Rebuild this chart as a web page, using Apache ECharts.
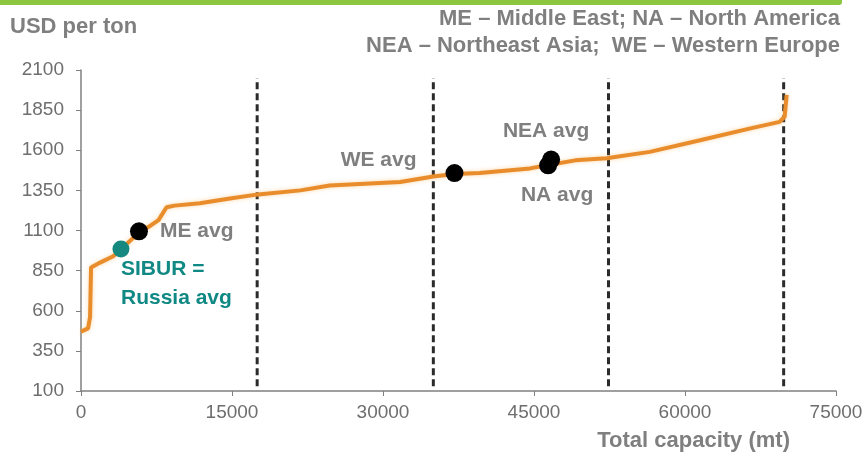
<!DOCTYPE html>
<html>
<head>
<meta charset="utf-8">
<script src="https://cdn.jsdelivr.net/npm/echarts@6/dist/echarts.min.js"></script>
<style>
  html, body { margin: 0; padding: 0; background: #fff; }
  #main { width: 867px; height: 456px; }
</style>
</head>
<body>
<div id="main"></div>
<script>
// cost curve: cumulative capacity (mt) -> cash cost (USD per ton)
var capacity = [0, 700, 900, 1000, 1900, 3200, 4000, 5800, 6900, 7700, 8500, 9300, 11800, 14800, 17600, 21800, 24700, 31700, 35000, 37100, 39600, 44600, 46600, 49100, 52200, 56500, 61500, 66400, 69400, 69900, 70100];
var cost = [470, 490, 560, 870, 900, 940, 985, 1090, 1130, 1165, 1245, 1255, 1270, 1300, 1325, 1350, 1380, 1402, 1437, 1452, 1458, 1487, 1510, 1537, 1550, 1590, 1662, 1735, 1777, 1810, 1945];

// regional averages
var avgNames = ['SIBUR =\nRussia avg', 'ME avg', 'WE avg', 'NEA avg', 'NA avg'];
var avgCapacity = [3970, 5760, 37100, 46700, 46400];
var avgCost = [985, 1095, 1458, 1542, 1506];

// quartile dividers
var dividers = [17500, 35000, 52400, 69800];
var dividerRange = [130, 2050];

var xTicks = { min: 0, max: 75000, interval: 15000 };
var yTicks = { min: 100, max: 2100, interval: 250 };

var legendLines = ['ME – Middle East; NA – North America', 'NEA – Northeast Asia;  WE – Western Europe'];

var gray = '#7f7f7f';
var teal = '#108884';
var font = 'Liberation Sans, Arial, sans-serif';

var chart = echarts.init(document.getElementById('main'));

var curveData = capacity.map(function (c, i) { return [c, cost[i]]; });

var labelPos = [
  { position: [8.5, 14], align: 'left', verticalAlign: 'top', color: teal, lineHeight: 29 },
  { position: 'right', distance: 12, color: gray },
  { position: [-29, -4], align: 'right', verticalAlign: 'middle', color: gray },
  { position: [4, -19], align: 'center', verticalAlign: 'middle', color: gray },
  { position: [18, 39], align: 'center', verticalAlign: 'middle', color: gray }
];

var avgData = avgNames.map(function (n, i) {
  var isRussia = i === 0;
  return {
    name: n,
    value: [avgCapacity[i], avgCost[i]],
    symbolSize: isRussia ? 17 : 18,
    itemStyle: { color: isRussia ? '#15897f' : '#000', opacity: 1 },
    label: Object.assign({
      show: true,
      formatter: n,
      fontSize: 21,
      fontWeight: 'bold',
      fontFamily: font
    }, labelPos[i])
  };
});

var dividerSeries = dividers.map(function (d) {
  return {
    type: 'line',
    data: [[d, dividerRange[0]], [d, dividerRange[1]]],
    showSymbol: false,
    silent: true,
    z: 1,
    lineStyle: { color: '#2b2b2b', width: 3, type: [7, 4] }
  };
});

var titles = [
  {
    text: 'USD per ton',
    left: 10, top: 16,
    padding: 0,
    textStyle: { color: gray, fontSize: 22, fontWeight: 'bold' }
  },
  {
    text: 'Total capacity (mt)',
    right: 77, top: 430,
    padding: 0,
    textStyle: { color: gray, fontSize: 22, fontWeight: 'bold' }
  }
].concat(legendLines.map(function (t, i) {
  return {
    text: t,
    right: 27, top: 8 + i * 27,
    padding: 0,
    textStyle: { color: gray, fontSize: 22, fontWeight: 'bold' }
  };
}));

chart.setOption({
  backgroundColor: '#fff',
  animation: false,
  textStyle: { fontFamily: font },
  graphic: [
    { type: 'rect', shape: { x: 0, y: 0, width: 842, height: 5, r: [0, 0, 3, 0] }, style: { fill: '#8dc63f' } }
  ],
  title: titles,
  grid: { left: 81, right: 31, top: 70, bottom: 65, containLabel: false },
  xAxis: {
    type: 'value',
    min: xTicks.min, max: xTicks.max, interval: xTicks.interval,
    splitLine: { show: false },
    axisLine: { lineStyle: { color: '#808080', width: 1.5 } },
    axisTick: { show: true, length: 5, lineStyle: { color: '#808080' } },
    axisLabel: {
      color: '#6e6e6e', fontSize: 19, margin: 12,
      formatter: function (v) { return String(v); }
    }
  },
  yAxis: {
    type: 'value',
    min: yTicks.min, max: yTicks.max, interval: yTicks.interval,
    splitLine: { show: false },
    axisLine: { show: true, lineStyle: { color: '#808080', width: 1.5 } },
    axisTick: { show: true, length: 5, lineStyle: { color: '#808080' } },
    axisLabel: {
      color: '#6e6e6e', fontSize: 19, margin: 17,
      formatter: function (v) { return String(v); }
    }
  },
  series: dividerSeries.concat([
    {
      type: 'line',
      data: curveData,
      showSymbol: false,
      z: 3,
      lineStyle: {
        color: '#e98c2b', width: 4,
        shadowColor: 'rgba(245,170,70,0.45)', shadowBlur: 4
      }
    },
    {
      type: 'scatter',
      data: avgData,
      z: 5
    }
  ])
});
</script>
</body>
</html>
